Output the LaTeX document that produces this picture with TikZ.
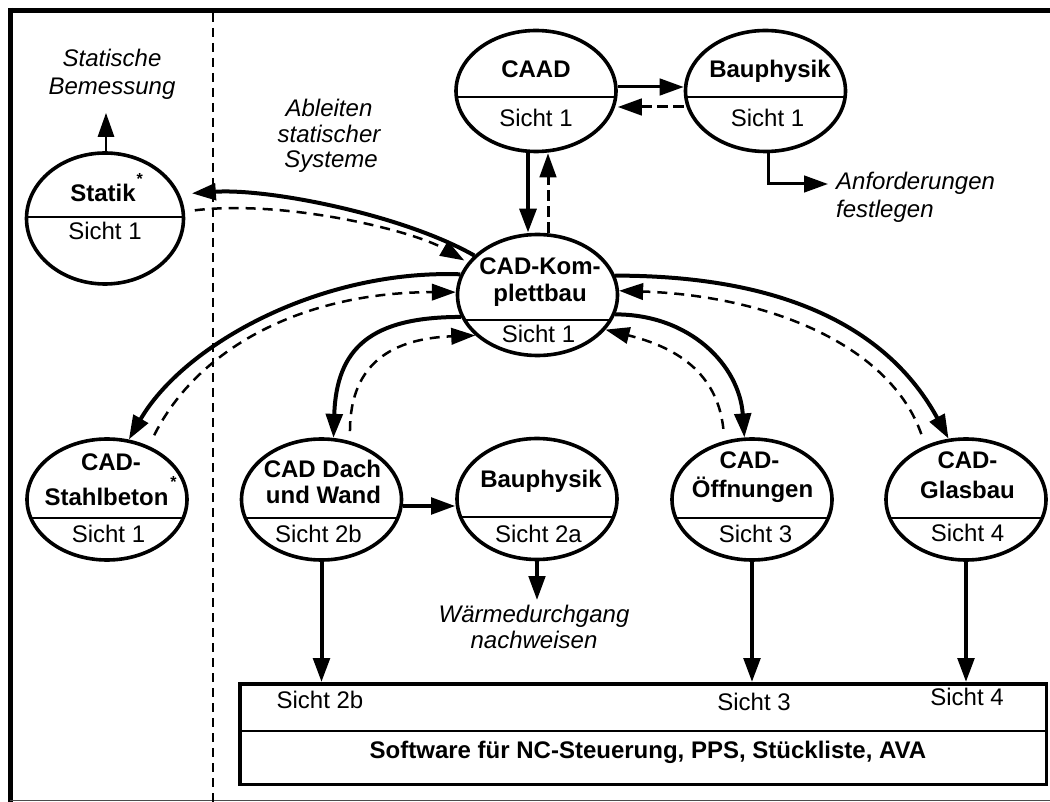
\documentclass[tikz,border=0pt]{standalone}
\usepackage{fontspec}
\setmainfont{Liberation Sans}
\usetikzlibrary{arrows.meta,shapes.geometric}

\begin{document}
\begin{tikzpicture}[x=1pt,y=-1pt,
  ell/.style={draw,ellipse,line width=3.6pt,minimum width=160pt,minimum height=121pt,inner sep=0pt},
  divider/.style={path picture={\draw[line width=2pt]
      ([yshift=-#1]path picture bounding box.west) -- ([yshift=-#1]path picture bounding box.east);}},
  ttl/.style={font=\bfseries\fontsize{24}{27}\selectfont,inner sep=0pt,anchor=base},
  sub/.style={font=\fontsize{24}{27}\selectfont,inner sep=0pt,anchor=base},
  lbl/.style={font=\itshape\fontsize{24}{27}\selectfont,inner sep=0pt,anchor=base},
  headed/.style={-{Triangle[length=24pt,width=16.5pt]}},
  flow/.style={headed,line width=4pt},
  back/.style={headed,line width=2.5pt,dash pattern=on 10pt off 7pt},
]
\useasboundingbox (0,0) rectangle (1050,802);

% frame and the dashed separator
\draw[line width=5pt] (10.5,8) -- (10.5,802);
\draw[line width=5pt] (8,10.5) -- (1050,10.5);
\draw[line width=1.5pt,black!70] (10,800.5) -- (1050,800.5);
\draw[line width=1.8pt,dash pattern=on 9pt off 6pt] (213,13) -- (213,802);

% ellipse nodes
\node[ell,minimum width=157pt,minimum height=131pt,divider=-1.5pt] (statik) at (105,218.5) {};
\node[ell,divider=6pt]  (caad)  at (536,91) {};
\node[ell,divider=6pt]  (bauo)  at (765.5,91) {};
\node[ell,divider=25pt] (komp)  at (537.5,295) {};
\node[ell,divider=18pt] (stahl) at (107,499.5) {};
\node[ell,divider=18pt] (dach)  at (321.5,499.5) {};
\node[ell,divider=18pt] (baul)  at (537,499) {};
\node[ell,divider=18pt] (oeff)  at (752,499.5) {};
\node[ell,divider=18pt] (glas)  at (966,499.5) {};

% output box
\node[draw,line width=3.5pt,minimum width=806.5pt,minimum height=100.5pt,inner sep=0pt,
  path picture={\draw[line width=2.5pt]
    ([yshift=3pt]path picture bounding box.west) -- ([yshift=3pt]path picture bounding box.east);}]
  (nc) at (643,734) {};

% texts inside the ellipses
\node[ttl] (statikT) at (103,202) {Statik\rlap{\kern1pt\raisebox{17.5pt}{\fontsize{16}{16}\selectfont *}}};
\node[sub] (statikS) at (105,240) {Sicht 1};
\node[ttl] (caadT) at (536,78) {CAAD};
\node[sub] (caadS) at (536,127) {Sicht 1};
\node[ttl] (bauoT) at (770,78) {Bauphysik};
\node[sub] (bauoS) at (767.5,127) {Sicht 1};
\node[ttl] (kompT1) at (540,275) {CAD-Kom-};
\node[ttl] (kompT2) at (540,302) {plettbau};
\node[sub] (kompS) at (538.5,343) {Sicht 1};
\node[ttl] (stahlT1) at (111,470) {CAD-};
\node[ttl] (stahlT2) at (106.5,505) {Stahlbeton\rlap{\kern2pt\raisebox{17.5pt}{\fontsize{16}{16}\selectfont *}}};
\node[sub] (stahlS) at (108.5,542) {Sicht 1};
\node[ttl] (dachT1) at (322.5,477) {CAD Dach};
\node[ttl] (dachT2) at (323.5,503) {und Wand};
\node[sub] (dachS) at (318.5,542) {Sicht 2b};
\node[ttl] (baulT) at (541,487) {Bauphysik};
\node[sub] (baulS) at (538.5,542) {Sicht 2a};
\node[ttl] (oeffT1) at (749.5,468) {CAD-};
\node[ttl] (oeffT2) at (752.5,497) {Öffnungen};
\node[sub] (oeffS) at (755.5,542) {Sicht 3};
\node[ttl] (glasT1) at (967.5,468) {CAD-};
\node[ttl] (glasT2) at (967.5,498) {Glasbau};
\node[sub] (glasS) at (967.5,541) {Sicht 4};

% texts inside the output box
\node[sub] (ncS2b) at (320,708) {Sicht 2b};
\node[sub] (ncS3) at (754,710) {Sicht 3};
\node[sub] (ncS4) at (967,705) {Sicht 4};
\node[ttl] (ncT) at (648,758) {Software für NC-Steuerung, PPS, Stückliste, AVA};

% italic annotations
\node[lbl] (statL1) at (112,67) {Statische};
\node[lbl] (statL2) at (112,95) {Bemessung};
\node[lbl] (ablL1) at (329,117) {Ableiten};
\node[lbl] (ablL2) at (329,143) {statischer};
\node[lbl] (ablL3) at (331,168) {Systeme};
\node[lbl,anchor=base west] (anfL1) at (836,190) {Anforderungen};
\node[lbl,anchor=base west] (anfL2) at (836,218) {festlegen};
\node[lbl] (wL1) at (534,622) {Wärmedurchgang};
\node[lbl] (wL2) at (534,648) {nachweisen};

% helper coordinates
\coordinate (xa) at (528,0);
\coordinate (xb) at (548,0);
\coordinate (xc) at (768,0);
\coordinate (anfEnd) at (828,184);
\coordinate (statUp) at (106,113);
\coordinate (wEnd) at (537,600);

% CAAD <-> Bauphysik
\draw[headed,line width=3pt] ([yshift=4pt]caad.east) -- ([yshift=4pt]bauo.west);
\draw[headed,line width=3pt,dash pattern=on 11pt off 5pt] ([yshift=-16pt]bauo.west) -- ([yshift=-16pt]caad.east);

% CAAD <-> CAD-Komplettbau
\draw[headed,line width=4.5pt] (caad.south -| xa) -- (komp.north -| xa);
\draw[headed,line width=3pt,dash pattern=on 11pt off 5pt] (komp.north -| xb) -- (caad.south -| xb);

% Bauphysik -> Anforderungen festlegen
\draw[headed,line width=3pt] (bauo.south -| xc) |- (anfEnd);

% Statik -> Statische Bemessung
\draw[headed,line width=1.6pt] (statik.north -| statUp) -- (statUp);

% CAD-Komplettbau <-> Statik
\draw[flow,shorten >=12pt] (komp.148) .. controls +(-72,-41) and +(88,-6) .. (statik.18);
\draw[back,shorten <=10pt,shorten >=4pt] (statik.5) .. controls +(100,-12) and +(-55,-32) .. (komp.155);

% CAD-Komplettbau <-> CAD-Stahlbeton
\draw[flow] (komp.165.6) .. controls +(-140,-5) and +(55,-95) .. (stahl.70.8);
\draw[back,shorten <=12pt] (stahl.52.8) .. controls +(50,-100) and +(-150,0) .. (komp.178);

% CAD-Komplettbau <-> CAD Dach und Wand
\draw[flow] (komp.196.8) .. controls +(-90,0) and +(3,-90) .. (dach.79.4);
\draw[back,shorten <=10pt] (dach.64) .. controls +(0,-80) and +(-80,3) .. (komp.213.5);

% CAD-Komplettbau <-> CAD-Oeffnungen
\draw[flow] (komp.-14.4) .. controls +(75,0) and +(-5,-72) .. (oeff.97.4);
\draw[back,shorten <=12pt] (oeff.115.6) .. controls +(-8,-75) and +(60,15) .. (komp.-27.2);

% CAD-Komplettbau <-> CAD-Glasbau
\draw[flow] (komp.14.4) .. controls +(170,0) and +(-60,-110) .. (glas.106.5);
\draw[back,shorten <=12pt] (glas.127.2) .. controls +(-35,-100) and +(150,5) .. (komp.3);

% CAD Dach und Wand -> Bauphysik, Bauphysik -> Waermedurchgang
\draw[headed,line width=3.5pt] ([yshift=-6.5pt]dach.east) -- ([yshift=-6.5pt]dach.east -| baul.west);
\draw[headed,line width=3.5pt] (baul.south) -- (wEnd);

% views handed over to the NC software
\draw[headed,line width=4pt] (dach.south) -- (dach.south |- nc.north);
\draw[headed,line width=4pt] (oeff.south) -- (oeff.south |- nc.north);
\draw[headed,line width=4pt] (glas.south) -- (glas.south |- nc.north);
\end{tikzpicture}
\end{document}
